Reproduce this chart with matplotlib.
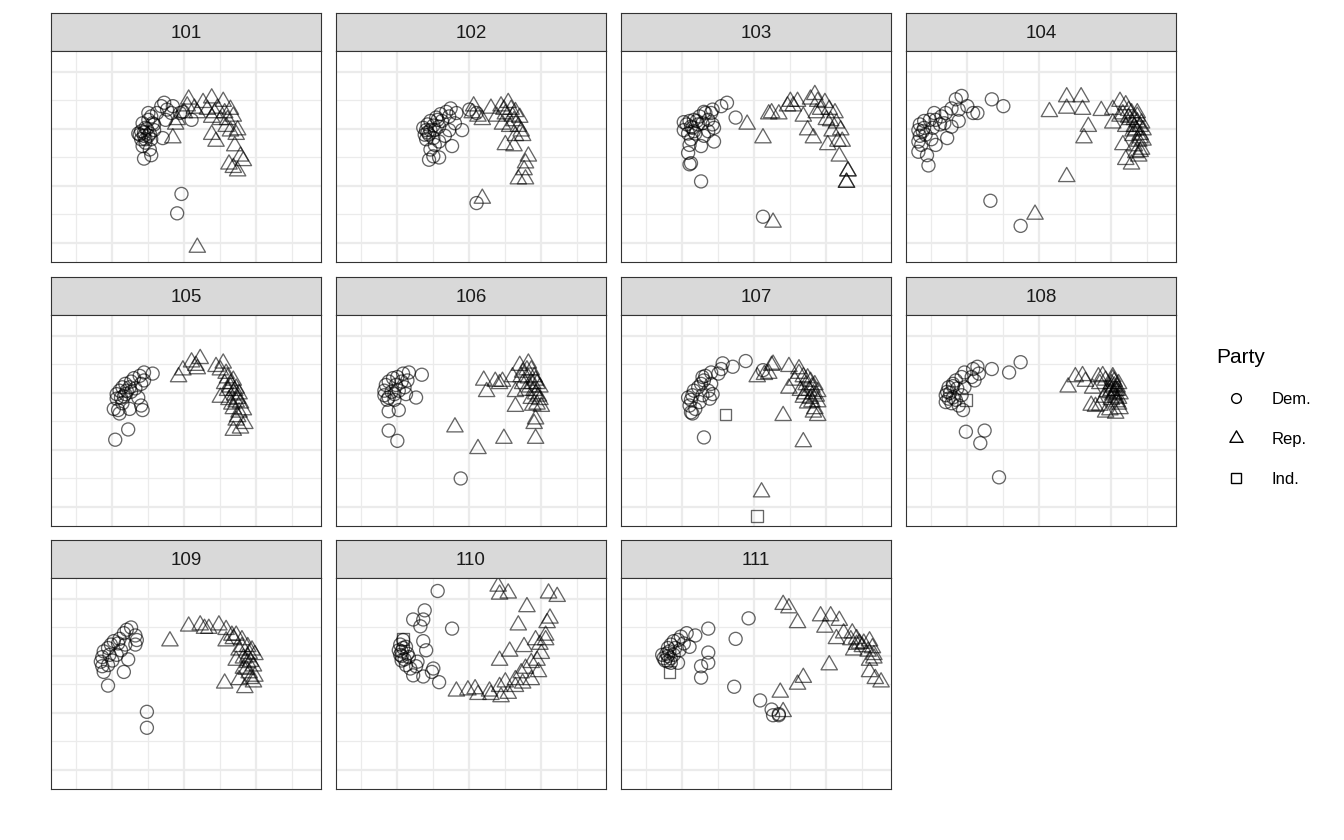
import matplotlib
matplotlib.use('Agg')
import matplotlib.pyplot as plt
from matplotlib.lines import Line2D
from matplotlib.path import Path

plt.rcParams['font.family'] = ['Liberation Sans', 'DejaVu Sans']

# Congress labels (one panel each)
congresses = ['101', '102', '103', '104', '105', '106', '107', '108', '109', '110', '111']

# (dim1, dim2) coordinates
dem_101 = [(-0.14, 0.73), (-0.16, 0.70), (-0.19, 0.64), (-0.12, 0.67), (-0.08, 0.70), (-0.23, 0.61), (-0.25, 0.58),
           (-0.29, 0.55), (-0.27, 0.51), (-0.30, 0.48), (-0.31, 0.45), (-0.28, 0.44), (-0.24, 0.46), (-0.21, 0.49),
           (-0.23, 0.41), (-0.27, 0.38), (-0.29, 0.35), (-0.24, 0.32), (-0.23, 0.27), (-0.28, 0.24), (-0.15, 0.42),
           (-0.13, 0.58), (-0.09, 0.64), (-0.03, 0.64), (-0.01, 0.65), (0.05, 0.58), (-0.21, 0.54), (-0.25, 0.64),
           (-0.30, 0.41), (-0.32, 0.46), (-0.02, -0.07), (-0.05, -0.24), (-0.26, 0.50), (-0.28, 0.47), (-0.25, 0.44),
           (-0.27, 0.41), (-0.22, 0.55)]
rep_101 = [(0.03, 0.76), (0.13, 0.73), (0.19, 0.77), (0.27, 0.74), (0.32, 0.67), (0.16, 0.67), (0.23, 0.68),
           (0.28, 0.64), (0.34, 0.61), (0.25, 0.58), (0.19, 0.60), (0.09, 0.64), (0.00, 0.64), (-0.05, 0.58),
           (-0.06, 0.54), (-0.08, 0.42), (0.19, 0.45), (0.22, 0.39), (0.29, 0.52), (0.32, 0.48), (0.36, 0.45),
           (0.37, 0.49), (0.35, 0.35), (0.39, 0.26), (0.41, 0.22), (0.31, 0.19), (0.34, 0.16), (0.37, 0.13),
           (0.09, -0.54), (0.02, 0.70), (0.07, 0.68), (0.21, 0.64), (0.30, 0.58)]
ind_101 = []

dem_102 = [(-0.13, 0.68), (-0.16, 0.65), (-0.20, 0.63), (-0.23, 0.60), (-0.27, 0.57), (-0.29, 0.54), (-0.30, 0.49),
           (-0.31, 0.45), (-0.28, 0.45), (-0.24, 0.49), (-0.21, 0.52), (-0.19, 0.57), (-0.14, 0.61), (-0.09, 0.64),
           (-0.10, 0.55), (-0.14, 0.49), (-0.17, 0.44), (-0.21, 0.39), (-0.24, 0.36), (-0.27, 0.32), (-0.25, 0.26),
           (-0.28, 0.23), (-0.21, 0.25), (-0.12, 0.35), (-0.05, 0.49), (0.00, 0.67), (0.05, 0.64), (-0.30, 0.41),
           (-0.25, 0.42), (-0.32, 0.51), (0.05, -0.15), (-0.27, 0.49), (-0.25, 0.53), (-0.29, 0.47), (-0.22, 0.58)]
rep_102 = [(0.03, 0.70), (0.06, 0.61), (0.09, 0.58), (0.15, 0.68), (0.19, 0.61), (0.22, 0.70), (0.27, 0.73),
           (0.29, 0.67), (0.32, 0.65), (0.25, 0.63), (0.30, 0.61), (0.35, 0.60), (0.23, 0.54), (0.28, 0.52),
           (0.34, 0.52), (0.36, 0.48), (0.32, 0.44), (0.37, 0.44), (0.25, 0.36), (0.31, 0.35), (0.41, 0.26),
           (0.39, 0.20), (0.38, 0.14), (0.34, 0.06), (0.39, 0.06), (0.09, -0.11), (0.02, 0.64), (0.24, 0.67),
           (0.31, 0.57)]
ind_102 = []

dem_103 = [(-0.19, 0.73), (-0.23, 0.70), (-0.29, 0.67), (-0.35, 0.65), (-0.38, 0.61), (-0.42, 0.58), (-0.45, 0.57),
           (-0.47, 0.54), (-0.49, 0.49), (-0.46, 0.46), (-0.43, 0.51), (-0.39, 0.54), (-0.36, 0.55), (-0.32, 0.58),
           (-0.29, 0.54), (-0.28, 0.51), (-0.32, 0.48), (-0.35, 0.44), (-0.37, 0.35), (-0.44, 0.41), (-0.45, 0.36),
           (-0.46, 0.29), (-0.44, 0.20), (-0.45, 0.19), (-0.37, 0.04), (-0.28, 0.39), (-0.13, 0.60), (0.06, -0.27),
           (-0.34, 0.64), (-0.30, 0.64), (-0.49, 0.56), (-0.41, 0.46), (-0.44, 0.52), (-0.42, 0.48), (-0.40, 0.57)]
rep_103 = [(-0.05, 0.54), (0.06, 0.42), (0.12, 0.64), (0.17, 0.63), (0.25, 0.74), (0.30, 0.74), (0.27, 0.70),
           (0.34, 0.61), (0.37, 0.49), (0.41, 0.42), (0.39, 0.76), (0.42, 0.80), (0.44, 0.74), (0.49, 0.73),
           (0.46, 0.67), (0.52, 0.67), (0.56, 0.64), (0.50, 0.58), (0.53, 0.57), (0.57, 0.55), (0.60, 0.49),
           (0.54, 0.48), (0.51, 0.36), (0.58, 0.39), (0.61, 0.39), (0.59, 0.26), (0.65, 0.13), (0.64, 0.03),
           (0.65, 0.13), (0.64, 0.03), (0.13, -0.32), (0.10, 0.63), (0.23, 0.70), (0.43, 0.64)]
ind_103 = []

dem_104 = [(-0.54, 0.79), (-0.58, 0.76), (-0.50, 0.70), (-0.46, 0.64), (-0.43, 0.64), (-0.56, 0.67), (-0.61, 0.68),
           (-0.65, 0.64), (-0.68, 0.61), (-0.73, 0.64), (-0.72, 0.58), (-0.76, 0.58), (-0.80, 0.57), (-0.83, 0.54),
           (-0.84, 0.49), (-0.81, 0.48), (-0.79, 0.45), (-0.83, 0.44), (-0.84, 0.39), (-0.82, 0.36), (-0.84, 0.30),
           (-0.78, 0.27), (-0.77, 0.18), (-0.72, 0.36), (-0.75, 0.41), (-0.66, 0.55), (-0.61, 0.52), (-0.64, 0.42),
           (-0.56, 0.57), (-0.33, 0.76), (-0.25, 0.70), (-0.34, -0.13), (-0.13, -0.35), (-0.74, 0.51), (-0.69, 0.54),
           (-0.80, 0.51)]
rep_104 = [(0.07, 0.65), (0.19, 0.78), (0.29, 0.78), (0.19, 0.68), (0.30, 0.67), (0.43, 0.66), (0.34, 0.52),
           (0.31, 0.42), (0.19, 0.08), (-0.03, -0.25), (0.51, 0.67), (0.56, 0.74), (0.60, 0.71), (0.58, 0.63),
           (0.64, 0.64), (0.68, 0.61), (0.71, 0.55), (0.51, 0.55), (0.60, 0.52), (0.67, 0.49), (0.72, 0.49),
           (0.65, 0.44), (0.69, 0.39), (0.58, 0.36), (0.71, 0.32), (0.67, 0.29), (0.60, 0.23), (0.64, 0.19),
           (0.69, 0.26), (0.56, 0.61), (0.66, 0.58), (0.62, 0.60), (0.66, 0.52), (0.70, 0.45), (0.63, 0.58),
           (0.68, 0.56), (0.70, 0.52), (0.65, 0.48), (0.70, 0.42), (0.62, 0.66), (0.68, 0.64), (0.72, 0.40),
           (0.66, 0.35), (0.70, 0.30)]
ind_104 = []

dem_105 = [(-0.22, 0.67), (-0.28, 0.68), (-0.31, 0.65), (-0.35, 0.63), (-0.37, 0.60), (-0.41, 0.58), (-0.43, 0.55),
           (-0.45, 0.52), (-0.47, 0.49), (-0.47, 0.45), (-0.44, 0.46), (-0.41, 0.49), (-0.37, 0.51), (-0.34, 0.54),
           (-0.30, 0.58), (-0.28, 0.61), (-0.38, 0.36), (-0.46, 0.35), (-0.45, 0.32), (-0.49, 0.36), (-0.30, 0.39),
           (-0.29, 0.35), (-0.39, 0.18), (-0.48, 0.09), (-0.32, 0.46), (-0.43, 0.41), (-0.40, 0.52), (-0.42, 0.47),
           (-0.38, 0.55)]
rep_105 = [(-0.04, 0.64), (-0.01, 0.70), (0.05, 0.77), (0.11, 0.80), (0.08, 0.74), (0.09, 0.71), (0.22, 0.73),
           (0.27, 0.76), (0.25, 0.70), (0.29, 0.67), (0.30, 0.63), (0.34, 0.61), (0.28, 0.58), (0.32, 0.55),
           (0.36, 0.54), (0.38, 0.49), (0.25, 0.46), (0.31, 0.44), (0.36, 0.42), (0.39, 0.41), (0.34, 0.36),
           (0.41, 0.35), (0.37, 0.29), (0.42, 0.23), (0.34, 0.17), (0.39, 0.19), (0.30, 0.52), (0.35, 0.48),
           (0.32, 0.58), (0.35, 0.52), (0.37, 0.45), (0.33, 0.40), (0.38, 0.33), (0.36, 0.26)]
ind_105 = []

dem_106 = [(-0.42, 0.68), (-0.46, 0.67), (-0.50, 0.64), (-0.53, 0.63), (-0.56, 0.60), (-0.58, 0.57), (-0.59, 0.52),
           (-0.59, 0.48), (-0.56, 0.46), (-0.52, 0.49), (-0.49, 0.52), (-0.45, 0.55), (-0.43, 0.61), (-0.47, 0.60),
           (-0.51, 0.57), (-0.54, 0.51), (-0.44, 0.49), (-0.37, 0.46), (-0.33, 0.66), (-0.56, 0.34), (-0.49, 0.35),
           (-0.56, 0.17), (-0.50, 0.08), (-0.06, -0.25), (-0.57, 0.44), (-0.52, 0.44)]
rep_106 = [(0.10, 0.61), (0.12, 0.51), (0.18, 0.60), (0.23, 0.60), (0.21, 0.58), (0.30, 0.64), (0.32, 0.51),
           (0.32, 0.38), (0.35, 0.74), (0.41, 0.76), (0.37, 0.68), (0.43, 0.70), (0.45, 0.64), (0.41, 0.63),
           (0.37, 0.58), (0.44, 0.58), (0.49, 0.55), (0.39, 0.52), (0.46, 0.49), (0.43, 0.45), (0.49, 0.44),
           (0.44, 0.39), (0.50, 0.38), (0.46, 0.27), (0.45, 0.23), (0.46, 0.10), (0.24, 0.10), (-0.10, 0.20),
           (0.06, 0.01), (0.36, 0.64), (0.46, 0.61), (0.47, 0.58), (0.45, 0.52), (0.48, 0.47), (0.42, 0.55),
           (0.47, 0.40), (0.40, 0.70)]
ind_106 = []

dem_107 = [(-0.06, 0.78), (-0.15, 0.73), (-0.22, 0.76), (-0.23, 0.71), (-0.25, 0.67), (-0.30, 0.68), (-0.34, 0.65),
           (-0.35, 0.61), (-0.37, 0.58), (-0.39, 0.55), (-0.42, 0.52), (-0.43, 0.48), (-0.44, 0.44), (-0.45, 0.39),
           (-0.44, 0.33), (-0.41, 0.36), (-0.38, 0.42), (-0.36, 0.48), (-0.32, 0.52), (-0.30, 0.58), (-0.29, 0.49),
           (-0.31, 0.45), (-0.35, 0.11), (0.06, 0.70), (-0.36, 0.64), (-0.46, 0.46), (-0.43, 0.32)]
rep_107 = [(0.02, 0.64), (0.07, 0.66), (0.12, 0.74), (0.13, 0.75), (0.10, 0.67), (0.24, 0.73), (0.31, 0.71),
           (0.31, 0.67), (0.28, 0.61), (0.24, 0.54), (0.34, 0.64), (0.37, 0.63), (0.39, 0.60), (0.42, 0.57),
           (0.36, 0.57), (0.32, 0.52), (0.38, 0.52), (0.44, 0.51), (0.34, 0.46), (0.39, 0.45), (0.44, 0.42),
           (0.37, 0.41), (0.42, 0.36), (0.44, 0.30), (0.20, 0.30), (0.34, 0.07), (0.05, -0.37), (0.41, 0.33),
           (0.35, 0.49), (0.40, 0.55), (0.41, 0.49), (0.40, 0.42), (0.43, 0.47)]
ind_107 = [(-0.20, 0.31), (0.02, -0.58)]

dem_108 = [(-0.13, 0.77), (-0.21, 0.68), (-0.33, 0.71), (-0.43, 0.73), (-0.46, 0.71), (-0.42, 0.67), (-0.47, 0.64),
           (-0.52, 0.68), (-0.54, 0.64), (-0.58, 0.61), (-0.60, 0.58), (-0.63, 0.55), (-0.64, 0.51), (-0.65, 0.48),
           (-0.63, 0.45), (-0.65, 0.42), (-0.61, 0.41), (-0.58, 0.44), (-0.54, 0.48), (-0.52, 0.55), (-0.57, 0.54),
           (-0.53, 0.35), (-0.51, 0.16), (-0.38, 0.17), (-0.41, 0.06), (-0.28, -0.24), (-0.60, 0.46), (-0.56, 0.39),
           (-0.45, 0.61), (-0.60, 0.56), (-0.62, 0.50)]
rep_108 = [(0.20, 0.55), (0.25, 0.64), (0.30, 0.65), (0.32, 0.60), (0.41, 0.64), (0.44, 0.65), (0.42, 0.58),
           (0.37, 0.54), (0.46, 0.61), (0.51, 0.64), (0.52, 0.60), (0.50, 0.55), (0.54, 0.55), (0.47, 0.51),
           (0.52, 0.49), (0.56, 0.49), (0.45, 0.46), (0.50, 0.44), (0.54, 0.42), (0.36, 0.39), (0.42, 0.39),
           (0.49, 0.35), (0.53, 0.32), (0.46, 0.33), (0.56, 0.36), (0.39, 0.38), (0.50, 0.58), (0.53, 0.52),
           (0.49, 0.50), (0.51, 0.62), (0.55, 0.45), (0.52, 0.56), (0.54, 0.52), (0.51, 0.48), (0.55, 0.58),
           (0.53, 0.46), (0.50, 0.52), (0.55, 0.40)]
ind_108 = [(-0.51, 0.44)]

dem_109 = [(-0.37, 0.75), (-0.40, 0.73), (-0.34, 0.68), (-0.33, 0.64), (-0.34, 0.60), (-0.42, 0.70), (-0.45, 0.65),
           (-0.49, 0.63), (-0.51, 0.60), (-0.53, 0.57), (-0.56, 0.54), (-0.57, 0.49), (-0.58, 0.45), (-0.57, 0.41),
           (-0.56, 0.36), (-0.53, 0.42), (-0.50, 0.46), (-0.47, 0.51), (-0.44, 0.55), (-0.41, 0.60), (-0.39, 0.47),
           (-0.42, 0.36), (-0.53, 0.24), (-0.26, 0.01), (-0.26, -0.13), (-0.46, 0.61), (-0.52, 0.51)]
rep_109 = [(-0.10, 0.63), (0.03, 0.76), (0.11, 0.77), (0.14, 0.74), (0.17, 0.74), (0.24, 0.77), (0.29, 0.73),
           (0.33, 0.68), (0.36, 0.68), (0.29, 0.63), (0.40, 0.64), (0.44, 0.58), (0.38, 0.55), (0.45, 0.52),
           (0.49, 0.51), (0.41, 0.48), (0.36, 0.46), (0.44, 0.44), (0.48, 0.41), (0.41, 0.39), (0.45, 0.35),
           (0.49, 0.32), (0.38, 0.29), (0.28, 0.26), (0.42, 0.22), (0.48, 0.27), (0.34, 0.65), (0.40, 0.58),
           (0.44, 0.49), (0.46, 0.45), (0.43, 0.38), (0.46, 0.30), (0.47, 0.55)]
ind_109 = []

dem_110 = [(-0.22, 1.07), (-0.31, 0.90), (-0.32, 0.82), (-0.39, 0.82), (-0.34, 0.76), (-0.12, 0.74), (-0.32, 0.63),
           (-0.30, 0.55), (-0.46, 0.64), (-0.48, 0.60), (-0.49, 0.55), (-0.48, 0.51), (-0.47, 0.46), (-0.44, 0.42),
           (-0.41, 0.39), (-0.39, 0.33), (-0.32, 0.32), (-0.25, 0.39), (-0.26, 0.36), (-0.21, 0.27), (-0.36, 0.45),
           (-0.42, 0.49), (-0.44, 0.58), (-0.37, 0.41), (-0.47, 0.54), (-0.43, 0.52), (-0.47, 0.50), (-0.45, 0.47),
           (-0.46, 0.57)]
rep_110 = [(0.20, 1.11), (0.21, 1.04), (0.27, 1.05), (0.40, 0.93), (0.34, 0.77), (0.55, 1.05), (0.61, 1.02),
           (0.56, 0.83), (0.53, 0.68), (0.53, 0.64), (0.46, 0.64), (0.38, 0.58), (0.28, 0.54), (0.21, 0.46),
           (0.50, 0.52), (0.47, 0.46), (0.43, 0.44), (0.39, 0.39), (0.36, 0.35), (0.32, 0.29), (0.37, 0.26),
           (0.43, 0.29), (0.48, 0.36), (0.25, 0.27), (0.21, 0.23), (-0.09, 0.19), (-0.01, 0.20), (0.04, 0.21),
           (0.06, 0.16), (0.15, 0.16), (0.22, 0.14), (0.14, 0.19), (0.27, 0.17), (0.32, 0.23), (0.49, 0.60),
           (0.54, 0.79)]
ind_110 = [(-0.46, 0.65)]

dem_111 = [(-0.04, 0.83), (-0.13, 0.65), (-0.32, 0.74), (-0.41, 0.68), (-0.47, 0.70), (-0.51, 0.67), (-0.53, 0.64),
           (-0.56, 0.63), (-0.58, 0.60), (-0.60, 0.57), (-0.61, 0.52), (-0.63, 0.48), (-0.60, 0.45), (-0.58, 0.44),
           (-0.53, 0.44), (-0.56, 0.51), (-0.52, 0.55), (-0.49, 0.61), (-0.45, 0.58), (-0.32, 0.53), (-0.32, 0.44),
           (-0.37, 0.41), (-0.37, 0.31), (-0.14, 0.23), (0.04, 0.11), (0.12, 0.03), (0.13, -0.02), (0.17, -0.02),
           (0.17, -0.01), (-0.59, 0.54), (-0.64, 0.51), (-0.60, 0.50), (-0.58, 0.48), (-0.62, 0.46), (-0.55, 0.57)]
rep_111 = [(0.20, 0.95), (0.24, 0.92), (0.30, 0.79), (0.46, 0.85), (0.53, 0.85), (0.49, 0.75), (0.59, 0.81),
           (0.57, 0.65), (0.62, 0.70), (0.68, 0.70), (0.67, 0.64), (0.71, 0.65), (0.73, 0.61), (0.69, 0.55),
           (0.76, 0.61), (0.80, 0.63), (0.82, 0.57), (0.79, 0.54), (0.83, 0.51), (0.80, 0.46), (0.83, 0.48),
           (0.80, 0.36), (0.84, 0.30), (0.88, 0.27), (0.52, 0.42), (0.34, 0.31), (0.30, 0.25), (0.18, 0.18),
           (0.20, 0.01), (0.75, 0.58), (0.71, 0.60)]
ind_111 = [(-0.59, 0.36)]

dem = [dem_101, dem_102, dem_103, dem_104, dem_105, dem_106, dem_107, dem_108, dem_109, dem_110, dem_111]
rep = [rep_101, rep_102, rep_103, rep_104, rep_105, rep_106, rep_107, rep_108, rep_109, rep_110, rep_111]
ind = [ind_101, ind_102, ind_103, ind_104, ind_105, ind_106, ind_107, ind_108, ind_109, ind_110, ind_111]

# figure in pixels
W, H = 1344, 840
fig = plt.figure(figsize=(W / 100, H / 100), dpi=100)
fig.patch.set_facecolor('white')

col_left = [51, 336, 621, 906]
row_top = [13, 277, 540]
pw, strip_h, ph = 270, 38, 211

# closed equilateral triangle like R's pch 2
tri = Path([(-1, -0.577), (1, -0.577), (0, 1.155), (0, 0)],
           [Path.MOVETO, Path.LINETO, Path.LINETO, Path.CLOSEPOLY])
edge = '#333333'


def frac(x0, y0, w, h):
    return [x0 / W, 1 - (y0 + h) / H, w / W, h / H]


def pts(p):
    return [q[0] for q in p], [q[1] for q in p]


for i, cong in enumerate(congresses):
    r, c = i // 4, i % 4
    L, T = col_left[c], row_top[r]

    # strip
    sax = fig.add_axes(frac(L, T, pw, strip_h))
    sax.set_facecolor('#D9D9D9')
    sax.set_xticks([])
    sax.set_yticks([])
    for s in sax.spines.values():
        s.set_color(edge)
        s.set_linewidth(0.8)
    sax.text(0.5, 0.47, cong, ha='center', va='center', fontsize=13.5, color='#1A1A1A', transform=sax.transAxes)

    ax = fig.add_axes(frac(L, T + strip_h, pw, ph))
    ax.set_xlim(-0.926, 0.949)
    ax.set_ylim(-0.667, 1.184)
    ax.set_xticks([-0.5, 0, 0.5])
    ax.set_xticks([-0.75, -0.25, 0.25, 0.75], minor=True)
    ax.set_yticks([-0.5, 0, 0.5, 1.0])
    ax.set_yticks([-0.25, 0.25, 0.75], minor=True)
    ax.tick_params(which='both', length=0, labelbottom=False, labelleft=False)
    ax.grid(which='major', color='#EBEBEB', linewidth=1.6)
    ax.grid(which='minor', color='#EBEBEB', linewidth=0.9)
    ax.set_axisbelow(True)
    for s in ax.spines.values():
        s.set_color(edge)
        s.set_linewidth(0.8)

    if dem[i]:
        x, y = pts(dem[i])
        ax.scatter(x, y, s=88, marker='o', facecolors='none', edgecolors='black', linewidths=0.95, alpha=0.6)
    if rep[i]:
        x, y = pts(rep[i])
        ax.scatter(x, y, s=185, marker=tri, facecolors='none', edgecolors='black', linewidths=0.95, alpha=0.6)
    if ind[i]:
        x, y = pts(ind[i])
        ax.scatter(x, y, s=70, marker='s', facecolors='none', edgecolors='black', linewidths=0.95, alpha=0.6)

handles = [
    Line2D([], [], linestyle='none', marker='o', markersize=7, markerfacecolor='none', markeredgecolor='black', markeredgewidth=1.0),
    Line2D([], [], linestyle='none', marker=tri, markersize=11, markerfacecolor='none', markeredgecolor='black', markeredgewidth=1.0),
    Line2D([], [], linestyle='none', marker='s', markersize=6.5, markerfacecolor='none', markeredgecolor='black', markeredgewidth=1.0),
]
fig.legend(handles, ['Dem.', 'Rep.', 'Ind.'], title='Party', loc='upper left',
           bbox_to_anchor=(1201 / W, 1 - 333 / H), frameon=False, fontsize=12, title_fontsize=15,
           alignment='left', labelspacing=1.5, handletextpad=0.95, handlelength=2.4)

fig.savefig('out.png', dpi=100)
